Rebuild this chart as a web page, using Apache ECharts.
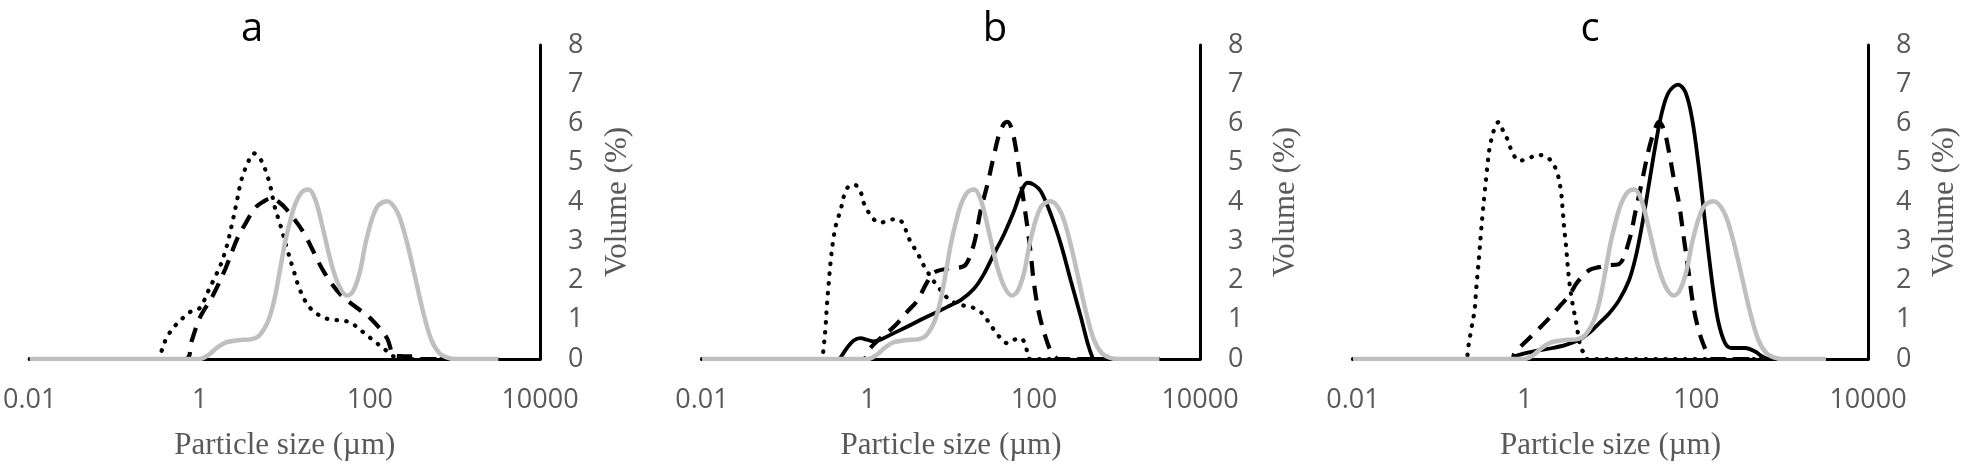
<!DOCTYPE html>
<html><head><meta charset="utf-8">
<script src="https://cdn.jsdelivr.net/npm/echarts@6/dist/echarts.min.js"></script>
<style>html,body{margin:0;padding:0;background:#fff}#c{width:1961px;height:466px}</style>
</head><body><div id="c"></div>
<script>
// ---------- DATA (particle size in µm, volume in %) ----------
const xTickLabels = ['0.01', '1', '100', '10000'];
const panelTitles = ['a', 'b', 'c'];
const xAxisTitle = 'Particle size (µm)';
const yAxisTitle = 'Volume (%)';

// grey reference curve (same in all panels)
const grayRef = [[0.01,0],[1,0],[1.26,0.1],[1.58,0.28],[2.0,0.42],[2.82,0.48],[3.98,0.5],[5.01,0.6],[6.31,0.95],[7.41,1.45],[8.91,2.35],[10,2.95],[11.5,3.5],[13.2,3.94],[15.8,4.25],[19.1,4.32],[22.9,4.05],[28.2,3.3],[35.5,2.4],[43.7,1.85],[53.7,1.62],[63.1,1.72],[75.9,2.2],[91.2,3.05],[120,3.86],[158,4.02],[209,3.75],[263,3.1],[331,2.2],[417,1.25],[525,0.5],[661,0.14],[832,0.03],[1000,0],[3240,0]];

// panel a
const aDotted = [[0.01,0],[0.316,0],[0.344,0.13],[0.407,0.54],[0.509,0.84],[0.638,1.05],[0.798,1.22],[1,1.3],[1.25,1.72],[1.48,2.05],[1.75,2.39],[2.08,2.89],[2.46,3.56],[2.75,4.06],[3.08,4.56],[3.64,4.98],[4.3,5.24],[5.09,5.11],[5.9,4.82],[6.75,4.4],[7.55,3.9],[8.93,3.39],[10.6,2.81],[12.5,2.3],[14.8,1.8],[18.5,1.38],[23.2,1.17],[29,1.05],[36.4,1.0],[48.2,0.98],[60.3,0.92],[71.5,0.8],[89.3,0.63],[112,0.46],[140,0.29],[175,0.13],[196,0.04],[210,0],[3240,0]];
const aDashed = [[0.01,0],[0.68,0],[0.8,0.45],[1,1.05],[1.41,1.6],[2.0,2.3],[2.75,3.06],[3.55,3.5],[4.47,3.85],[5.5,4.0],[7,4.1],[8.5,4.0],[10.5,3.81],[16.6,3.22],[28.8,2.22],[45.7,1.63],[70.8,1.3],[100,1.05],[158,0.54],[195,0.08],[251,0.07],[355,0.06],[417,0],[3240,0]];

// panel b
const bDotted = [[0.01,0],[0.28,0],[0.29,0.24],[0.306,0.74],[0.321,1.41],[0.336,1.92],[0.352,2.42],[0.385,3.1],[0.423,3.52],[0.465,3.77],[0.519,4.19],[0.585,4.4],[0.686,4.44],[0.809,4.27],[0.887,3.98],[1.02,3.73],[1.17,3.56],[1.41,3.47],[1.78,3.54],[2.24,3.56],[2.7,3.43],[2.96,3.17],[3.4,2.92],[3.92,2.71],[4.5,2.45],[5.16,2.24],[5.94,2.03],[6.82,1.87],[8.22,1.65],[9.89,1.48],[11.9,1.41],[14.3,1.36],[17.3,1.33],[22.7,1.2],[27.4,0.99],[33,0.74],[39.7,0.53],[47.9,0.4],[57.5,0.49],[69.3,0.53],[79.6,0.32],[85,0.03],[90,0],[3240,0]];
const bDashed = [[0.01,0],[0.87,0],[1.07,0.28],[1.41,0.53],[2.05,0.82],[2.96,1.2],[3.92,1.49],[5.16,1.96],[6.22,2.2],[9.02,2.3],[11.9,2.32],[15,2.4],[18.9,2.93],[22.7,3.77],[27.4,4.44],[33,5.2],[37.9,5.71],[43.6,6.0],[47.9,6.04],[55,5.79],[63.1,5.12],[69.3,4.53],[76,3.94],[83.4,3.35],[91.4,2.68],[100,1.92],[115,1.16],[139,0.53],[160,0.19],[183,0.03],[200,0],[3240,0]];
const bSolid = [[0.01,0],[0.45,0],[0.465,0.03],[0.558,0.28],[0.673,0.47],[0.809,0.53],[0.975,0.49],[1.17,0.45],[1.41,0.49],[2.05,0.66],[2.96,0.82],[4.71,1.04],[6.82,1.2],[9.89,1.37],[13.1,1.5],[18.9,1.79],[25,2.17],[33,2.68],[43.6,3.18],[57.5,3.77],[69.3,4.24],[83.4,4.49],[100,4.44],[121,4.27],[160,3.68],[211,2.92],[278,1.99],[367,1.07],[443,0.4],[508,0.03],[530,0],[3240,0]];

// panel c
const cDotted = [[0.01,0],[0.209,0],[0.218,0.24],[0.238,0.74],[0.261,1.25],[0.272,1.76],[0.285,2.26],[0.298,2.76],[0.311,3.27],[0.326,3.77],[0.34,4.19],[0.356,4.61],[0.372,5.03],[0.396,5.45],[0.445,5.87],[0.499,6.04],[0.556,5.83],[0.635,5.58],[0.726,5.24],[0.867,5.05],[1.13,5.12],[1.42,5.2],[1.77,5.16],[2.11,5.0],[2.42,4.71],[2.64,4.29],[2.76,3.86],[2.88,3.35],[3.02,2.93],[3.16,2.42],[3.3,2.0],[3.61,1.41],[3.94,0.99],[4.24,0.57],[4.51,0.28],[4.92,0.15],[5.3,0],[3240,0]];
const cDashed = [[0.01,0],[0.71,0],[0.759,0.15],[1.04,0.45],[1.42,0.74],[1.93,1.04],[2.52,1.33],[3.3,1.62],[4.12,1.96],[5.62,2.26],[7.36,2.34],[9.62,2.39],[12.6,2.42],[16.4,3.0],[19.6,3.77],[23.4,4.55],[28,5.35],[32.8,5.85],[36.6,6.04],[41.8,5.85],[47.8,5.3],[54.6,4.6],[62.4,4.0],[71.3,3.1],[81.5,2.2],[93.1,1.3],[106,0.75],[122,0.35],[142,0.05],[150,0],[3240,0]];
const cSolid = [[0.01,0],[0.74,0],[0.793,0.08],[1.24,0.19],[2.11,0.28],[3.02,0.36],[4.31,0.49],[5.62,0.66],[7.36,0.91],[9.62,1.16],[12.6,1.5],[16.4,2.0],[19.6,2.59],[23.4,3.43],[28,4.44],[33.4,5.45],[40,6.31],[47.8,6.8],[61.2,6.99],[74.5,6.8],[89.1,6.13],[106,4.95],[122,3.77],[139,2.69],[159,1.68],[182,0.91],[217,0.4],[259,0.28],[371,0.28],[484,0.19],[578,0.07],[690,0],[3240,0]];

const panels = [
  {dotted: aDotted, dashed: aDashed, solid: null, gray: grayRef},
  {dotted: bDotted, dashed: bDashed, solid: bSolid, gray: grayRef},
  {dotted: cDotted, dashed: cDashed, solid: cSolid, gray: grayRef}
];

// ---------- LAYOUT / STYLE ----------
const gridBoxes = [
  {left: 24, top: 45, width: 516, height: 317.7},
  {left: 702, top: 45, width: 498, height: 317.7},
  {left: 1353, top: 45, width: 517, height: 317.7}
];
const titleX = [252, 995, 1590];
const yNameGap = [62, 70, 61];
const tickFont = 'Open Sans';
const serifFont = 'Liberation Serif';
const grayText = '#595959';

function fmtX(v) {
  for (const l of xTickLabels) {
    if (Math.abs(Math.log10(parseFloat(l)) - Math.log10(v)) < 1e-6) return l;
  }
  return '';
}

const grid = [], xAxis = [], yAxis = [], series = [];
gridBoxes.forEach((g, i) => {
  grid.push(Object.assign({containLabel: false}, g));
  xAxis.push({
    gridIndex: i, type: 'log', logBase: 100, min: 0.01, max: 10000,
    axisLine: {show: true, lineStyle: {color: '#000', width: 3}},
    axisTick: {show: false}, splitLine: {show: false},
    axisLabel: {show: true, showMinLabel: true, showMaxLabel: true, margin: 28, formatter: fmtX,
      color: grayText, fontSize: 27, fontFamily: tickFont},
    name: xAxisTitle, nameLocation: 'middle', nameGap: 71, nameMoveOverlap: false,
    nameTextStyle: {fontFamily: serifFont, fontSize: 31, color: grayText}
  });
  yAxis.push({
    gridIndex: i, type: 'value', min: 0, max: 8, interval: 1, position: 'right',
    axisLine: {show: true, onZero: false, lineStyle: {color: '#000', width: 3}},
    axisTick: {show: false}, splitLine: {show: false},
    axisLabel: {margin: 28, color: grayText, fontSize: 27, fontFamily: tickFont},
    name: yAxisTitle, nameLocation: 'middle', nameRotate: 90, nameGap: yNameGap[i], nameMoveOverlap: false,
    nameTextStyle: {fontFamily: serifFont, fontSize: 31, color: grayText}
  });
  const p = panels[i];
  const base = {type: 'line', xAxisIndex: i, yAxisIndex: i, symbol: 'none', smooth: 0.35, animation: false, silent: true};
  if (p.solid) series.push(Object.assign({}, base, {data: p.solid, lineStyle: {color: '#000', width: 3.8}}));
  series.push(Object.assign({}, base, {data: p.dashed, lineStyle: {color: '#000', width: 4.2, type: [15, 10]}}));
  series.push(Object.assign({}, base, {data: p.dotted, lineStyle: {color: '#000', width: 4.2, type: [0.5, 9.3], cap: 'round'}}));
  series.push(Object.assign({}, base, {data: p.gray, lineStyle: {color: '#BFBFBF', width: 4.5}}));
});

const graphic = panelTitles.map((t, i) => ({
  type: 'text', x: titleX[i], y: 29.5, silent: true,
  style: {text: t, fill: '#000', font: '40px "Open Sans"', align: 'center', verticalAlign: 'middle',
    textAlign: 'center', textVerticalAlign: 'middle'}
}));

const chart = echarts.init(document.getElementById('c'), null, {renderer: 'canvas'});
chart.setOption({backgroundColor: '#fff', animation: false, grid, xAxis, yAxis, series, graphic});
</script></body></html>
